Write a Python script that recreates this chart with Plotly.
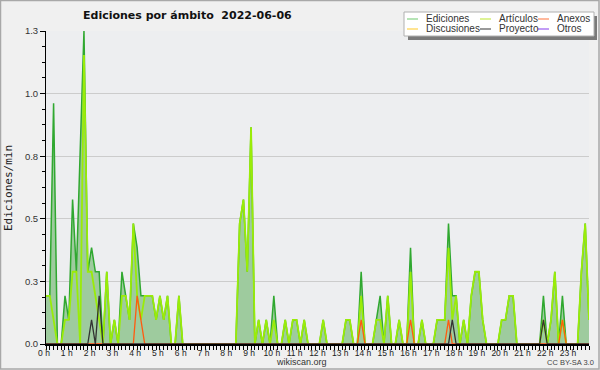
import plotly.graph_objects as go

# ---- data: edits/min per 10-minute bin (144 bins) ----
bin_index = list(range(144))
hour_labels = [f"{h} h" for h in range(24)]

ediciones = [
    0.2, 0.2, 1.0, 0, 0, 0.2, 0.1, 0.6, 0.3, 0.8,
    1.3, 0.3, 0.4, 0.3, 0.3, 0, 0.3, 0, 0.1, 0,
    0.3, 0.2, 0.1, 0.5, 0.4, 0.2, 0.2, 0.2, 0.2, 0.1,
    0.2, 0.1, 0.2, 0, 0, 0.2, 0, 0, 0, 0,
    0, 0, 0, 0, 0, 0, 0, 0, 0, 0,
    0, 0.5, 0.6, 0.3, 0.9, 0, 0.1, 0, 0.1, 0,
    0.2, 0, 0, 0.1, 0, 0.1, 0.1, 0, 0.1, 0,
    0, 0, 0, 0.1, 0, 0, 0, 0, 0, 0.1,
    0.1, 0, 0, 0.3, 0, 0, 0, 0.1, 0.2, 0,
    0.2, 0, 0, 0.1, 0, 0, 0.4, 0, 0, 0.1,
    0, 0, 0, 0.1, 0.1, 0.1, 0.5, 0.2, 0.2, 0,
    0.1, 0, 0.2, 0.3, 0.3, 0.1, 0, 0, 0, 0,
    0.1, 0.1, 0.2, 0.2, 0, 0, 0, 0, 0, 0,
    0, 0.2, 0, 0.1, 0.3, 0, 0.2, 0, 0, 0,
    0, 0.3, 0.5, 0.1,
]
articulos = [
    0.2, 0.2, 0.1, 0, 0, 0.1, 0.1, 0.3, 0.3, 0,
    1.2, 0.3, 0.3, 0.2, 0.1, 0, 0.3, 0, 0.1, 0,
    0.2, 0.2, 0.1, 0.5, 0.2, 0.1, 0.2, 0.2, 0.2, 0.1,
    0.2, 0.1, 0.2, 0, 0, 0.2, 0, 0, 0, 0,
    0, 0, 0, 0, 0, 0, 0, 0, 0, 0,
    0, 0.5, 0.6, 0.3, 0.9, 0, 0.1, 0, 0.1, 0,
    0.1, 0, 0, 0.1, 0, 0.1, 0.1, 0, 0.1, 0,
    0, 0, 0, 0.1, 0, 0, 0, 0, 0, 0.1,
    0.1, 0, 0, 0.2, 0, 0, 0, 0.1, 0.1, 0,
    0.2, 0, 0, 0.1, 0, 0, 0.3, 0, 0, 0.1,
    0, 0, 0, 0.1, 0.1, 0.1, 0.4, 0.1, 0.2, 0,
    0.1, 0, 0.2, 0.3, 0.3, 0.1, 0, 0, 0, 0,
    0.1, 0.1, 0.2, 0.2, 0, 0, 0, 0, 0, 0,
    0, 0.1, 0, 0.1, 0.3, 0, 0.1, 0, 0, 0,
    0, 0.3, 0.5, 0.1,
]
anexos = [0] * 144
for i, v in [(24, 0.2), (25, 0.1), (83, 0.1), (96, 0.1), (106, 0.1), (136, 0.1)]:
    anexos[i] = v
proyecto = [0] * 144
for i, v in [(12, 0.1), (14, 0.2), (107, 0.1), (131, 0.1)]:
    proyecto[i] = v
discusiones = [0] * 144
otros = [0] * 144

y_tick_values = [0, 0.26, 0.52, 0.78, 1.04, 1.3]
y_tick_labels = ["0.0", "0.3", "0.5", "0.8", "1.0", "1.3"]

series_names = ["Ediciones", "Artículos", "Anexos", "Discusiones", "Proyecto", "Otros"]
legend_colors = ["#86d386", "#c8ec50", "#ff8a5c", "#ffd24a", "#555555", "#9a5cf0"]

# ---- figure ----
hours = [i / 6 for i in bin_index]
fig = go.Figure()
fig.add_trace(go.Scatter(x=hours, y=ediciones, mode="lines", fill="tozeroy",
                         fillcolor="rgb(158,203,158)",
                         line=dict(color="#30a830", width=1.5), name="Ediciones"))
fig.add_trace(go.Scatter(x=hours, y=discusiones, mode="lines",
                         line=dict(color="#ffcc00", width=1), name="Discusiones"))
fig.add_trace(go.Scatter(x=hours, y=otros, mode="lines",
                         line=dict(color="#8844ee", width=1), name="Otros"))
fig.add_trace(go.Scatter(x=hours, y=articulos, mode="lines",
                         line=dict(color="#9aec08", width=1.8), name="Artículos"))
fig.add_trace(go.Scatter(x=hours, y=anexos, mode="lines",
                         line=dict(color="#ff5a10", width=1.3), name="Anexos"))
fig.add_trace(go.Scatter(x=hours, y=proyecto, mode="lines",
                         line=dict(color="#333333", width=1.3), name="Proyecto"))

# pixel -> paper helpers (plot area: x 46..589, y 31..344)
L, R, T, B = 46, 589, 31, 344
def px(x):
    return (x - L) / (R - L)
def py(y):
    return (B - y) / (B - T)

shapes = []
annotations = []

# outer frame
shapes.append(dict(type="rect", xref="paper", yref="paper",
                   x0=px(0.5), x1=px(599), y0=py(0.5), y1=py(369),
                   line=dict(color="#a8a8a8", width=1.5), layer="below"))

# legend box with shadow
shapes.append(dict(type="rect", xref="paper", yref="paper",
                   x0=px(408), x1=px(597), y0=py(16), y1=py(40),
                   fillcolor="#7a7a7a", line=dict(width=0)))
shapes.append(dict(type="rect", xref="paper", yref="paper",
                   x0=px(404), x1=px(594), y0=py(12), y1=py(36),
                   fillcolor="white", line=dict(color="#b0b0b0", width=1)))
col_x = [407, 480, 538]
row_y = [19, 29]
for k, (name, col) in enumerate(zip(series_names, legend_colors)):
    r, c = divmod(k, 3)
    shapes.append(dict(type="line", xref="paper", yref="paper",
                       x0=px(col_x[c]), x1=px(col_x[c] + 11),
                       y0=py(row_y[r]), y1=py(row_y[r]),
                       line=dict(color=col, width=1.2)))
    annotations.append(dict(text=name, xref="paper", yref="paper",
                            x=px(col_x[c] + 17), y=py(row_y[r]),
                            xanchor="left", yanchor="middle", showarrow=False,
                            font=dict(family="Liberation Sans", size=10, color="#333333")))

# title
annotations.append(dict(text="<b>Ediciones por ámbito  2022-06-06</b>", xref="paper", yref="paper",
                        x=px(187.5), y=py(16), xanchor="center", yanchor="middle",
                        showarrow=False,
                        font=dict(family="DejaVu Sans", size=11, color="#111111")))
# y-axis title
annotations.append(dict(text="Ediciones/min", xref="paper", yref="paper",
                        x=px(8), y=py(188), xanchor="center", yanchor="middle",
                        textangle=-90, showarrow=False,
                        font=dict(family="DejaVu Sans Mono", size=11, color="#222222")))
annotations.append(dict(text="wikiscan.org", xref="paper", yref="paper",
                        x=px(301), y=py(362), xanchor="center", yanchor="middle",
                        showarrow=False,
                        font=dict(family="Liberation Sans", size=9, color="#333333")))
annotations.append(dict(text="CC BY-SA 3.0", xref="paper", yref="paper",
                        x=px(570), y=py(362), xanchor="center", yanchor="middle",
                        showarrow=False,
                        font=dict(family="Liberation Sans", size=7.5, color="#444444")))

fig.update_layout(
    width=600, height=370,
    margin=dict(l=L, r=600 - R, t=T, b=370 - B, pad=0, autoexpand=False),
    paper_bgcolor="#f0f0f0", plot_bgcolor="#edeef0",
    showlegend=False,
    shapes=shapes, annotations=annotations,
    xaxis=dict(range=[0, 143 / 6], tickmode="array", tickvals=list(range(24)),
               ticktext=hour_labels, ticks="outside", ticklen=4, tickcolor="black",
               showline=True, linecolor="black", linewidth=1.5, automargin=False,
               showgrid=False, zeroline=False, ticklabelshift=-2, ticklabelstandoff=-4,
               tickfont=dict(family="Liberation Sans", size=8.5, color="#222222"),
               minor=dict(dtick=1 / 6, tick0=0, ticks="outside", ticklen=4,
                          tickcolor="black", showgrid=False)),
    yaxis=dict(range=[0, 1.3], tickmode="array", tickvals=y_tick_values,
               ticktext=y_tick_labels, ticks="outside", ticklen=5, tickcolor="black",
               showline=True, linecolor="black", linewidth=1, automargin=False,
               showgrid=True, gridcolor="#cccccc", gridwidth=1, zeroline=False,
               tickfont=dict(family="Liberation Sans", size=9.5, color="#333333"),
               minor=dict(tickvals=[k * 0.065 for k in range(21)], ticks="outside",
                          ticklen=3, tickcolor="black", showgrid=False)),
)

fig.write_html("out.html", config={"displayModeBar": False},
               post_script="document.body.style.margin='0px';document.body.style.padding='0px';")
